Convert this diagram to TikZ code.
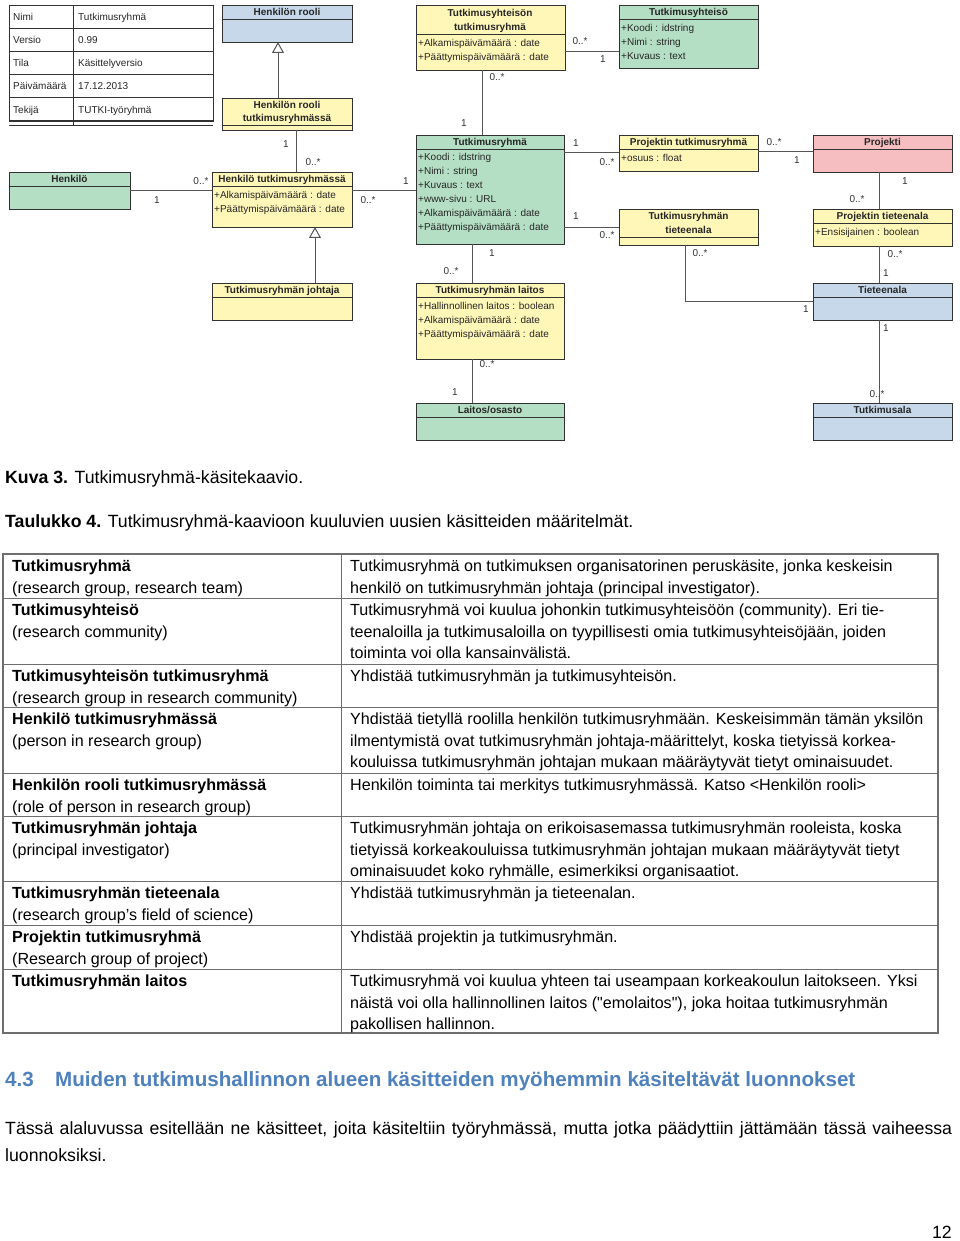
\documentclass[tikz,border=0pt]{standalone}
\usepackage{fontspec}
\setmainfont{Liberation Sans}
\newfontfamily\plainf{Liberation Sans}
\usetikzlibrary{arrows.meta}
\definecolor{uyel}{RGB}{255,247,184}
\definecolor{ugrn}{RGB}{181,223,196}
\definecolor{ublu}{RGB}{198,216,234}
\definecolor{upnk}{RGB}{246,190,192}
\definecolor{hblue}{RGB}{79,129,189}
\definecolor{tline}{RGB}{110,110,110}
\definecolor{cline}{RGB}{85,85,85}
\definecolor{bline}{RGB}{50,50,50}
\tikzset{
  ubx/.style={draw=bline, line width=0.9pt, inner sep=0pt, outer sep=0pt},
  usep/.style={draw=bline, line width=0.8pt},
  uhd/.style={anchor=base, inner sep=0pt, font=\bfseries\fontsize{10}{14}\selectfont, text=black!85},
  uat/.style={anchor=base west, inner sep=0pt, font=\fontsize{10}{14}\selectfont, text=black!85},
  ulab/.style={inner sep=0pt, font=\fontsize{10}{12}\selectfont, text=black!80},
  assoc/.style={draw=cline, line width=1pt},
  gen/.style={draw=cline, line width=1pt, -{Triangle[open, length=11pt, width=12pt, fill=white]}},
  mtxt/.style={anchor=base west, inner sep=0pt, font=\fontsize{10}{14}\selectfont, text=black!85},
  cell/.style={anchor=north west, align=left, inner sep=0pt, font=\fontsize{16.1}{21.7}\selectfont},
  body/.style={anchor=base west, inner sep=0pt, font=\fontsize{17.7}{26}\selectfont},
  tl/.style={draw=tline, line width=1pt},
}
\newcommand\ubox[7]{%
  \node[ubx, fill=#2, minimum width=#5-#3, minimum height=#6-#4, anchor=north west] (#1) at (#3,#4) {};
  \draw[usep] (#1.west |- 0,#7) -- (#1.east |- 0,#7);
}
\begin{document}
\begin{tikzpicture}[x=1pt,y=-1pt]
\useasboundingbox (0,0) rectangle (960,1241);
\fill[white] (0,0) rectangle (960,1241);

% ---- metadata table ----
\draw[draw=bline, line width=0.9pt] (9,5) rectangle (213,121);
\foreach \yy in {28,51,74,97} \draw[usep] (9,\yy) -- (213,\yy);
\draw[draw=bline, line width=1.2pt] (9,121) -- (213,121);
\draw[usep] (9,125) -- (213,125);
\draw[usep] (73,5) -- (73,125);
\node[mtxt] (m1) at (13,20.5) {Nimi};
\node[mtxt] (m2) at (13,43.5) {Versio};
\node[mtxt] (m3) at (13,66.5) {Tila};
\node[mtxt] (m4) at (13,89.5) {Päivämäärä};
\node[mtxt] (m5) at (13,113.5) {Tekijä};
\node[mtxt] (v1) at (78,20.5) {Tutkimusryhmä};
\node[mtxt] (v2) at (78,43.5) {0.99};
\node[mtxt] (v3) at (78,66.5) {Käsittelyversio};
\node[mtxt] (v4) at (78,89.5) {17.12.2013};
\node[mtxt] (v5) at (78,113.5) {TUTKI-työryhmä};

% ---- classes ----
\ubox{hr}{ublu}{222}{5}{352}{42}{19}
\node[uhd] (hrh) at (287,16) {Henkilön rooli};

\ubox{hrt}{uyel}{222}{98}{352}{130}{125}
\node[uhd] (hrth1) at (287,109) {Henkilön rooli};
\node[uhd] (hrth2) at (287,122) {tutkimusryhmässä};

\ubox{htr}{uyel}{212}{172}{352}{227}{186}
\node[uhd] (htrh) at (282,182.5) {Henkilö tutkimusryhmässä};
\node[uat] (htra1) at (214,198.5) {+Alkamispäivämäärä : date};
\node[uat] (htra2) at (214,212.5) {+Päättymispäivämäärä : date};

\ubox{henkilo}{ugrn}{9}{172}{130}{209}{186}
\node[uhd] (henh) at (69.5,182.5) {Henkilö};

\ubox{tj}{uyel}{212}{283}{352}{320}{297}
\node[uhd] (tjh) at (282,293.5) {Tutkimusryhmän johtaja};

\ubox{tsr}{uyel}{416}{5}{565}{70}{34}
\node[uhd] (tsrh1) at (490,16.5) {Tutkimusyhteisön};
\node[uhd] (tsrh2) at (490,30.5) {tutkimusryhmä};
\node[uat] (tsra1) at (418,46.5) {+Alkamispäivämäärä : date};
\node[uat] (tsra2) at (418,60.5) {+Päättymispäivämäärä : date};

\ubox{tsy}{ugrn}{619}{5}{758}{68}{19}
\node[uhd] (tsyh) at (688.5,16) {Tutkimusyhteisö};
\node[uat] (tsya1) at (621,31.5) {+Koodi : idstring};
\node[uat] (tsya2) at (621,45.5) {+Nimi : string};
\node[uat] (tsya3) at (621,59.5) {+Kuvaus : text};

\ubox{tr}{ugrn}{416}{135}{564}{244}{149}
\node[uhd] (trh) at (490,145.5) {Tutkimusryhmä};
\node[uat] (tra1) at (418,160.5) {+Koodi : idstring};
\node[uat] (tra2) at (418,174.5) {+Nimi : string};
\node[uat] (tra3) at (418,188.5) {+Kuvaus : text};
\node[uat] (tra4) at (418,202.5) {+www-sivu : URL};
\node[uat] (tra5) at (418,216.5) {+Alkamispäivämäärä : date};
\node[uat] (tra6) at (418,230.5) {+Päättymispäivämäärä : date};

\ubox{ptr}{uyel}{619}{135}{758}{171}{149}
\node[uhd] (ptrh) at (688.5,145.5) {Projektin tutkimusryhmä};
\node[uat] (ptra1) at (621,161.5) {+osuus : float};

\ubox{tte}{uyel}{619}{209}{758}{245}{237}
\node[uhd] (tteh1) at (688.5,219.5) {Tutkimusryhmän};
\node[uhd] (tteh2) at (688.5,233.5) {tieteenala};

\ubox{proj}{upnk}{813}{135}{952}{172}{149}
\node[uhd] (projh) at (882.5,145.5) {Projekti};

\ubox{pte}{uyel}{813}{209}{952}{246}{223}
\node[uhd] (pteh) at (882.5,219.5) {Projektin tieteenala};
\node[uat] (ptea1) at (815,235.5) {+Ensisijainen : boolean};

\ubox{tiet}{ublu}{813}{283}{952}{320}{297}
\node[uhd] (tieth) at (882.5,293.5) {Tieteenala};

\ubox{tala}{ublu}{813}{403}{952}{440}{417}
\node[uhd] (talah) at (882.5,413.5) {Tutkimusala};

\ubox{trl}{uyel}{416}{283}{564}{359}{297}
\node[uhd] (trlh) at (490,293.5) {Tutkimusryhmän laitos};
\node[uat] (trla1) at (418,309.5) {+Hallinnollinen laitos : boolean};
\node[uat] (trla2) at (418,323.5) {+Alkamispäivämäärä : date};
\node[uat] (trla3) at (418,337.5) {+Päättymispäivämäärä : date};

\ubox{lo}{ugrn}{416}{403}{564}{440}{417}
\node[uhd] (loh) at (490,413.5) {Laitos/osasto};

% ---- connectors ----
\draw[gen] (hrt.north -| 278,0) -- (hr.south -| 278,0);
\draw[gen] (tj.north -| 315,0) -- (htr.south -| 315,0);

\draw[assoc] (htr.north -| 296,0) -- (hrt.south -| 296,0);
\node[ulab] (l1) at (286,144) {1};
\node[ulab] (l2) at (313,162) {0..*};

\draw[assoc] (henkilo.east |- 0,191) -- (htr.west |- 0,191);
\node[ulab] (l3) at (201,181) {0..*};
\node[ulab] (l4) at (157,200) {1};

\draw[assoc] (htr.east |- 0,191) -- (tr.west |- 0,191);
\node[ulab] (l5) at (406,181) {1};
\node[ulab] (l6) at (368,200) {0..*};

\draw[assoc] (tsr.east |- 0,52) -- (tsy.west |- 0,52);
\node[ulab] (l7) at (580,41) {0..*};
\node[ulab] (l8) at (603,59) {1};

\draw[assoc] (tsr.south -| 482,0) -- (tr.north -| 482,0);
\node[ulab] (l9) at (497,77) {0..*};
\node[ulab] (l10) at (464,123) {1};

\draw[assoc] (tr.east |- 0,153) -- (ptr.west |- 0,153);
\node[ulab] (l11) at (576,143) {1};
\node[ulab] (l12) at (607,162) {0..*};

\draw[assoc] (tr.east |- 0,228) -- (tte.west |- 0,228);
\node[ulab] (l13) at (576,216) {1};
\node[ulab] (l14) at (607,235) {0..*};

\draw[assoc] (ptr.east |- 0,152) -- (proj.west |- 0,152);
\node[ulab] (l15) at (774,142) {0..*};
\node[ulab] (l16) at (797,160) {1};

\draw[assoc] (proj.south -| 879,0) -- (pte.north -| 879,0);
\node[ulab] (l17) at (905,181) {1};
\node[ulab] (l18) at (857,199) {0..*};

\draw[assoc] (pte.south -| 879,0) -- (tiet.north -| 879,0);
\node[ulab] (l19) at (895,254) {0..*};
\node[ulab] (l20) at (886,273) {1};

\draw[assoc] (tte.south -| 685,0) |- (tiet.west |- 0,301);
\node[ulab] (l21) at (700,253) {0..*};
\node[ulab] (l22) at (806,309) {1};

\draw[assoc] (tiet.south -| 879,0) -- (tala.north -| 879,0);
\node[ulab] (l23) at (886,328) {1};
\node[ulab] (l24) at (877,394) {0..*};

\draw[assoc] (tr.south -| 472,0) -- (trl.north -| 472,0);
\node[ulab] (l25) at (492,253) {1};
\node[ulab] (l26) at (451,271) {0..*};

\draw[assoc] (trl.south -| 472,0) -- (lo.north -| 472,0);
\node[ulab] (l27) at (487,364) {0..*};
\node[ulab] (l28) at (455,392) {1};

% ---- captions ----
\node[body] (cap1) at (5,483) {\textbf{Kuva 3.} Tutkimusryhmä-käsitekaavio.};
\node[body] (cap2) at (5,527) {\textbf{Taulukko 4.} Tutkimusryhmä-kaavioon kuuluvien uusien käsitteiden määritelmät.};

% ---- definitions table ----
\foreach \yy in {598,664,707,773,816,881,925,969} \draw[tl] (3,\yy) -- (938,\yy);
\draw[tl] (341,554) -- (341,1033);
\draw[draw=tline, line width=1.4pt] (3,554) rectangle (938,1033);

\node[cell] (a1) at (12,556) {\strut\textbf{Tutkimusryhmä}\\(research group, research team)};
\node[cell] (a2) at (12,600) {\strut\textbf{Tutkimusyhteisö}\\(research community)};
\node[cell] (a3) at (12,666) {\strut\textbf{Tutkimusyhteisön tutkimusryhmä}\\(research group in research community)};
\node[cell] (a4) at (12,709) {\strut\textbf{Henkilö tutkimusryhmässä}\\(person in research group)};
\node[cell] (a5) at (12,775) {\strut\textbf{Henkilön rooli tutkimusryhmässä}\\(role of person in research group)};
\node[cell] (a6) at (12,818) {\strut\textbf{Tutkimusryhmän johtaja}\\(principal investigator)};
\node[cell] (a7) at (12,883) {\strut\textbf{Tutkimusryhmän tieteenala}\\(research group’s field of science)};
\node[cell] (a8) at (12,927) {\strut\textbf{Projektin tutkimusryhmä}\\(Research group of project)};
\node[cell] (a9) at (12,971) {\strut\textbf{Tutkimusryhmän laitos}};

\node[cell] (b1) at (350,556) {\strut Tutkimusryhmä on tutkimuksen organisatorinen peruskäsite, jonka keskeisin\\henkilö on tutkimusryhmän johtaja (principal investigator).};
\node[cell] (b2) at (350,600) {\strut Tutkimusryhmä voi kuulua johonkin tutkimusyhteisöön (community). Eri tie-\\teenaloilla ja tutkimusaloilla on tyypillisesti omia tutkimusyhteisöjään, joiden\\toiminta voi olla kansainvälistä.};
\node[cell] (b3) at (350,666) {\strut Yhdistää tutkimusryhmän ja tutkimusyhteisön.};
\node[cell] (b4) at (350,709) {\strut Yhdistää tietyllä roolilla henkilön tutkimusryhmään. Keskeisimmän tämän yksilön\\ilmentymistä ovat tutkimusryhmän johtaja-määrittelyt, koska tietyissä korkea-\\kouluissa tutkimusryhmän johtajan mukaan määräytyvät tietyt ominaisuudet.};
\node[cell] (b5) at (350,775) {\strut Henkilön toiminta tai merkitys tutkimusryhmässä. Katso <Henkilön rooli>};
\node[cell] (b6) at (350,818) {\strut Tutkimusryhmän johtaja on erikoisasemassa tutkimusryhmän rooleista, koska\\tietyissä korkeakouluissa tutkimusryhmän johtajan mukaan määräytyvät tietyt\\ominaisuudet koko ryhmälle, esimerkiksi organisaatiot.};
\node[cell] (b7) at (350,883) {\strut Yhdistää tutkimusryhmän ja tieteenalan.};
\node[cell] (b8) at (350,927) {\strut Yhdistää projektin ja tutkimusryhmän.};
\node[cell] (b9) at (350,971) {\strut Tutkimusryhmä voi kuulua yhteen tai useampaan korkeakoulun laitokseen. Yksi\\näistä voi olla hallinnollinen laitos ({\plainf "emolaitos"}), joka hoitaa tutkimusryhmän\\pakollisen hallinnon.};

% ---- heading and paragraph ----
\node[anchor=base west, inner sep=0pt, text=hblue, font=\bfseries\fontsize{20.6}{24}\selectfont] (hnum) at (5,1086) {4.3};
\node[anchor=base west, inner sep=0pt, text=hblue, font=\bfseries\fontsize{20.6}{24}\selectfont] (htxt) at (55,1086) {Muiden tutkimushallinnon alueen käsitteiden myöhemmin käsiteltävät luonnokset};
\node[body] (p1) at (5,1134) {\makebox[947pt][s]{Tässä alaluvussa esitellään ne käsitteet, joita käsiteltiin työryhmässä, mutta jotka päädyttiin jättämään tässä vaiheessa}};
\node[body] (p2) at (5,1161) {luonnoksiksi.};
\node[anchor=base east, inner sep=0pt, font=\fontsize{17.7}{22}\selectfont] (pg) at (952,1238) {12};
\end{tikzpicture}
\end{document}
